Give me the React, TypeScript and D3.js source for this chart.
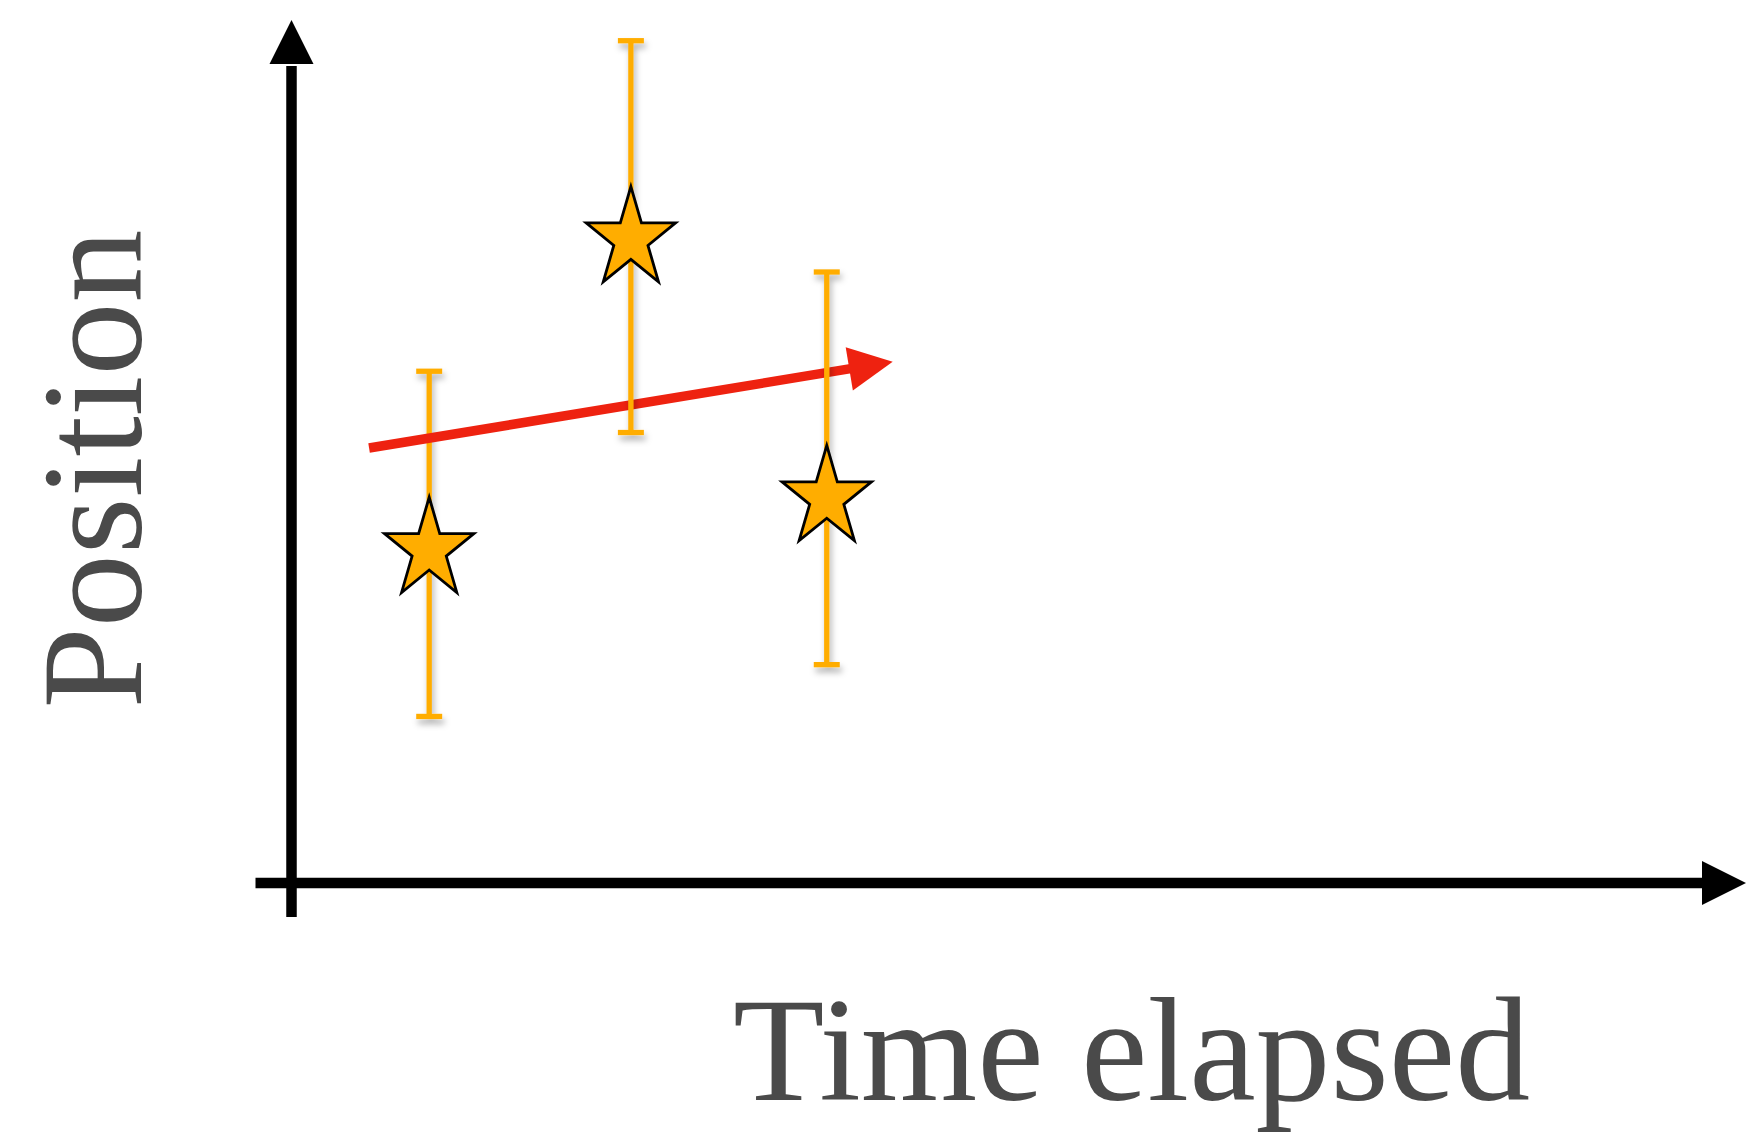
import React from 'react';
import * as d3 from 'd3';

// ---- data (abstract units) ----
const times = [0.71, 1.75, 2.76];
const positions = [3.86, 7.46, 4.46];
const errLow = [1.93, 5.22, 2.53];
const errHigh = [5.93, 9.76, 7.08];
const trendStart = [0.4, 5.04];
const trendEnd = [3.1, 6.04];
const xDomain = [0, 7.5];
const yDomain = [0, 10];
const xLabel = 'Time elapsed';
const yLabel = 'Position';

const W = 1746;
const H = 1136;
const ORANGE = '#FFAD00';
const RED = '#EE2210';
const GRAY = '#4a4a4a';

const x = d3.scaleLinear().domain(xDomain).range([291.5, 1746]);
const y = d3.scaleLinear().domain(yDomain).range([883, 20]);

function headPoints(fx: number, fy: number, tx: number, ty: number, L = 44, hw = 22) {
  const dx = tx - fx, dy = ty - fy;
  const len = Math.hypot(dx, dy);
  const ux = dx / len, uy = dy / len;
  const bx = tx - ux * L, by = ty - uy * L;
  const nx = -uy, ny = ux;
  return {
    base: [bx, by],
    pts: `${tx},${ty} ${bx + nx * hw},${by + ny * hw} ${bx - nx * hw},${by - ny * hw}`,
  };
}

function starPath(cx: number, cy: number, R: number, sy: number) {
  const r = R * 0.382;
  const pts: [number, number][] = [];
  for (let i = 0; i < 10; i++) {
    const a = -Math.PI / 2 + (i * Math.PI) / 5;
    const rad = i % 2 === 0 ? R : r;
    pts.push([cx + rad * Math.cos(a), cy + rad * Math.sin(a) * sy]);
  }
  return d3.line()(pts) + 'Z';
}

export default function App() {
  const x0 = x(xDomain[0]);
  const y0 = y(yDomain[0]);
  const yTip = y(yDomain[1]);
  const xTip = x(xDomain[1]);
  const yHead = headPoints(x0, y0, x0, yTip);
  const xHead = headPoints(x0, y0, xTip, y0);

  const tsx = x(trendStart[0]), tsy = y(trendStart[1]);
  const tex = x(trendEnd[0]), tey = y(trendEnd[1]);
  const tHead = headPoints(tsx, tsy, tex, tey);
  const tdx = tex - tsx, tdy = tey - tsy, tl = Math.hypot(tdx, tdy);
  const lineEndX = tHead.base[0] + (tdx / tl) * 6;
  const lineEndY = tHead.base[1] + (tdy / tl) * 6;

  const bar = (i: number) => {
    const cx = x(times[i]);
    return (
      <g key={'bar' + i} filter="url(#shadow)">
        <line x1={cx} x2={cx} y1={y(errHigh[i])} y2={y(errLow[i])} stroke={ORANGE} strokeWidth={5.3} />
        <line x1={cx - 13} x2={cx + 13} y1={y(errHigh[i])} y2={y(errHigh[i])} stroke={ORANGE} strokeWidth={5.3} />
        <line x1={cx - 13} x2={cx + 13} y1={y(errLow[i])} y2={y(errLow[i])} stroke={ORANGE} strokeWidth={5.3} />
      </g>
    );
  };

  const font = "'Liberation Serif', 'Times New Roman', Times, serif";

  return (
    <svg
      width={W}
      height={H}
      style={{ position: 'absolute', left: 0, top: 0, background: '#fff' }}
    >
      <defs>
        <filter id="shadow" x="-200%" y="-20%" width="500%" height="140%">
          <feDropShadow dx={2} dy={5} stdDeviation={3} floodColor="#000" floodOpacity={0.3} />
        </filter>
      </defs>
      <rect width={W} height={H} fill="#fff" />

      {/* axes */}
      <line x1={x0} x2={x0} y1={y0 + 34} y2={yHead.base[1] + 2} stroke="#000" strokeWidth={10.5} />
      <polygon points={yHead.pts} fill="#000" />
      <line x1={x0 - 36} x2={xHead.base[0] + 2} y1={y0} y2={y0} stroke="#000" strokeWidth={10.5} />
      <polygon points={xHead.pts} fill="#000" />

      {/* error bars and trend arrow */}
      {bar(0)}
      <line x1={tsx} y1={tsy} x2={lineEndX} y2={lineEndY} stroke={RED} strokeWidth={9.5} />
      <polygon points={tHead.pts} fill={RED} />
      {bar(1)}
      {bar(2)}

      {/* stars */}
      {times.map((t, i) => (
        <path
          key={'star' + i}
          d={starPath(x(t), y(positions[i]), 47, 1.12)}
          fill={ORANGE}
          stroke="#000"
          strokeWidth={2.8}
          strokeLinejoin="miter"
          strokeMiterlimit={10}
        />
      ))}

      {/* labels */}
      <text
        x={733}
        y={1100}
        fontFamily={font}
        fontSize={148}
        fill={GRAY}
        textLength={797}
        lengthAdjust="spacingAndGlyphs"
      >
        {xLabel}
      </text>
      <text
        transform="translate(140.5,708.5) rotate(-90)"
        fontFamily={font}
        fontSize={145}
        fill={GRAY}
        textLength={479}
        lengthAdjust="spacingAndGlyphs"
      >
        {yLabel}
      </text>
    </svg>
  );
}
